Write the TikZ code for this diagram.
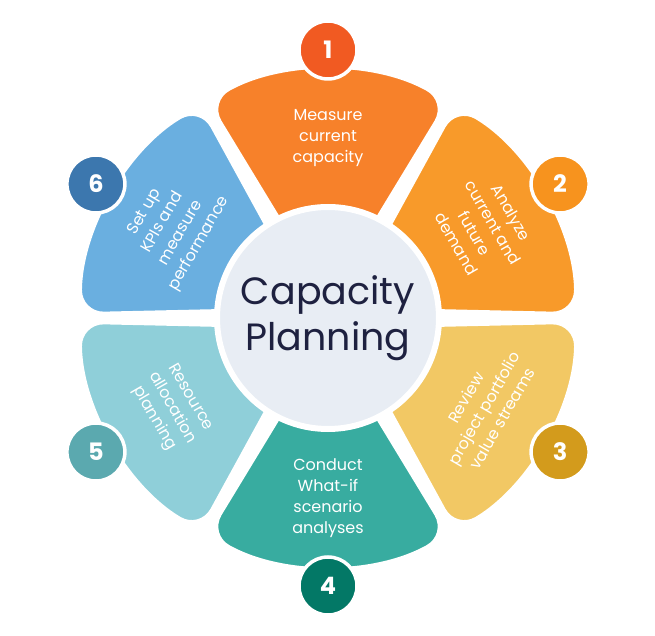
\documentclass[tikz,border=0pt]{standalone}
\usepackage{fontspec}
\setmainfont{Poppins}
\definecolor{cA}{HTML}{F7812A}\definecolor{nA}{HTML}{F15A22}
\definecolor{cB}{HTML}{F89A2A}\definecolor{nB}{HTML}{F7931E}
\definecolor{cC}{HTML}{F2C864}\definecolor{nC}{HTML}{D39B1C}
\definecolor{cD}{HTML}{38ACA0}\definecolor{nD}{HTML}{037866}
\definecolor{cE}{HTML}{8FCFD9}\definecolor{nE}{HTML}{5BA9AF}
\definecolor{cF}{HTML}{6AAFE0}\definecolor{nF}{HTML}{3C77AE}
\definecolor{hub}{HTML}{E8EDF4}\definecolor{ink}{HTML}{1E2140}
\tikzset{
  petal/.style={fill=#1, draw=white, line width=3pt, rounded corners=24pt},
  num/.style={circle, fill=#1, draw=white, line width=3.5pt, minimum size=58pt,
    text=white, font=\fontsize{24}{24}\selectfont\bfseries},
  lbl/.style={text=white, align=center, font=\fontsize{16}{21}\selectfont},
}
\begin{document}
\begin{tikzpicture}[x=1pt,y=1pt]
    \useasboundingbox (-328,-318) rectangle (327,318);
    \foreach \a/\c/\n/\r/\t in {90/cA/nA/0/{Measure\\current\\capacity},
        30/cB/nB/-60/{Analyze\\current and\\future\\demand},
        -30/cC/nC/60/{Review\\project portfolio\\value streams},
        -90/cD/nD/0/{Conduct\\What-if\\scenario\\analyses},
        210/cE/nE/-60/{Resource\\allocation\\planning},
        150/cF/nF/60/{Set up\\KPIs and\\measure\\performance}}
    {
        \draw[petal=\c] (\a-25:90) -- (\a-29:248) arc[start angle=\a-29, end angle=\a+29, radius=248]
            -- (\a+25:90) [sharp corners] -- cycle;
        \node[lbl, rotate=\r] (txt\n) at (\a:180) {\t};
    }
    \node[circle, fill=hub, draw=white, line width=6pt, minimum size=222pt, text=ink,
        font=\fontsize{38}{46}\selectfont, align=center] (hub) at (0,0) {Capacity\\Planning};
    \foreach \a/\n/\k in {90/nA/1, 30/nB/2, -30/nC/3, -90/nD/4, 210/nE/5, 150/nF/6}
        \node[num=\n] (num\k) at (\a:268) {\k};
\end{tikzpicture}
\end{document}
